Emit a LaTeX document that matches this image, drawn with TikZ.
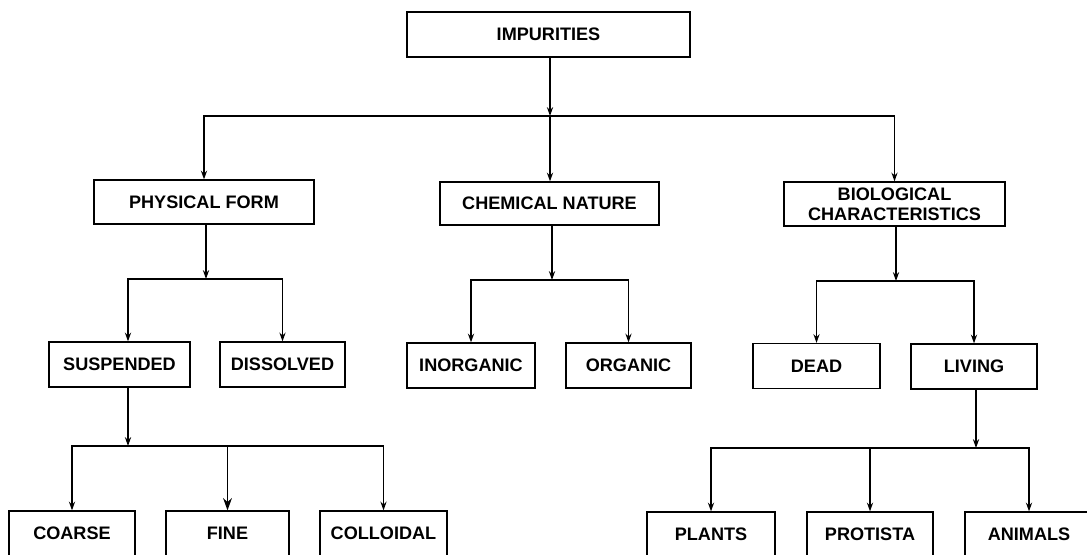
\documentclass[tikz,border=0pt]{standalone}
\usepackage{fontspec}
\setmainfont{Liberation Sans}
\usepackage{tikz}
\usetikzlibrary{arrows.meta,calc}

\begin{document}
\begin{tikzpicture}[x=0.02cm,y=-0.02cm,
    box/.style={draw,line width=0.7pt,inner sep=0pt,minimum height=0.9cm,align=center,
                font=\bfseries\fontsize{10.3}{11.6}\selectfont},
    arr/.style={line width=0.9pt,-{Stealth[length=5pt,width=3.5pt]}},
    bigarr/.style={line width=0.9pt,-{Stealth[length=7pt,width=5pt]}}]
    \clip (0,0) rectangle (1087,554);

    % Niveau 0
    \node[box,minimum width=5.66cm] (imp) at (548.5,34.5) {IMPURITIES};

    % Niveau 1
    \node[box,minimum width=4.4cm,minimum height=0.88cm]  (phys) at (204,202)   {PHYSICAL FORM};
    \node[box,minimum width=4.38cm,minimum height=0.86cm] (chem) at (549.5,203.5) {CHEMICAL NATURE};
    \node[box,minimum width=4.42cm,minimum height=0.88cm] (bio)  at (894.5,204) {BIOLOGICAL\\CHARACTERISTICS};

    % Niveau 2
    \node[box,minimum width=2.82cm] (susp)   at (119.5,364.5) {SUSPENDED};
    \node[box,minimum width=2.5cm]  (diss)   at (282.5,364.5) {DISSOLVED};
    \node[box,minimum width=2.56cm] (inorg)  at (471,365.5)   {INORGANIC};
    \node[box,minimum width=2.5cm]  (org)    at (628.5,365.5) {ORGANIC};
    \node[box,minimum width=2.54cm] (dead)   at (816.5,366)   {DEAD};
    \node[box,minimum width=2.52cm] (living) at (974,366.5)   {LIVING};

    % Niveau 3
    \node[box,minimum width=2.52cm] (coarse) at (72,533.5)    {COARSE};
    \node[box,minimum width=2.46cm] (fine)   at (227.5,533.5) {FINE};
    \node[box,minimum width=2.54cm] (coll)   at (383.5,533.5) {COLLOIDAL};
    \node[box,minimum width=2.56cm] (plants) at (711,534.5)   {PLANTS};
    \node[box,minimum width=2.52cm] (prot)   at (870,534.5)   {PROTISTA};
    \node[box,minimum width=2.56cm] (anim)   at (1029,534.5)  {ANIMALS};

    % Points de branchement
    \coordinate (b0) at (550,116);
    \coordinate (b1) at (206,279);
    \coordinate (b2) at (552,280);
    \coordinate (b3) at (896,281);
    \coordinate (b4) at (128,446);
    \coordinate (b5) at (976,448);
    \coordinate (suspn) at ([xshift=0.17cm]susp.north);
    \coordinate (susps) at ([xshift=0.17cm]susp.south);

    % Liaisons
    \draw[arr] (imp.south -| b0) -- (b0);
    \draw[arr] (b0) -| (phys.north);
    \draw[arr] (b0) -- (chem.north -| b0);
    \draw[arr] (b0) -| (bio.north);

    \draw[arr] (phys.south -| b1) -- (b1);
    \draw[arr] (b1) -| (suspn);
    \draw[arr] (b1) -| (diss.north);

    \draw[arr] (chem.south -| b2) -- (b2);
    \draw[arr] (b2) -| (inorg.north);
    \draw[arr] (b2) -| (org.north);

    \draw[arr] (bio.south -| b3) -- (b3);
    \draw[arr] (b3) -| (dead.north);
    \draw[arr] (b3) -| (living.north);

    \draw[arr] (susps) -- (b4);
    \draw[arr] (b4) -| (coarse.north);
    \draw[bigarr] (b4) -| (fine.north);
    \draw[arr] (b4) -| (coll.north);

    \draw[arr] (living.south -| b5) -- (b5);
    \draw[arr] (b5) -| (plants.north);
    \draw[arr] (b5) -| (prot.north);
    \draw[arr] (b5) -| (anim.north);
\end{tikzpicture}
\end{document}
